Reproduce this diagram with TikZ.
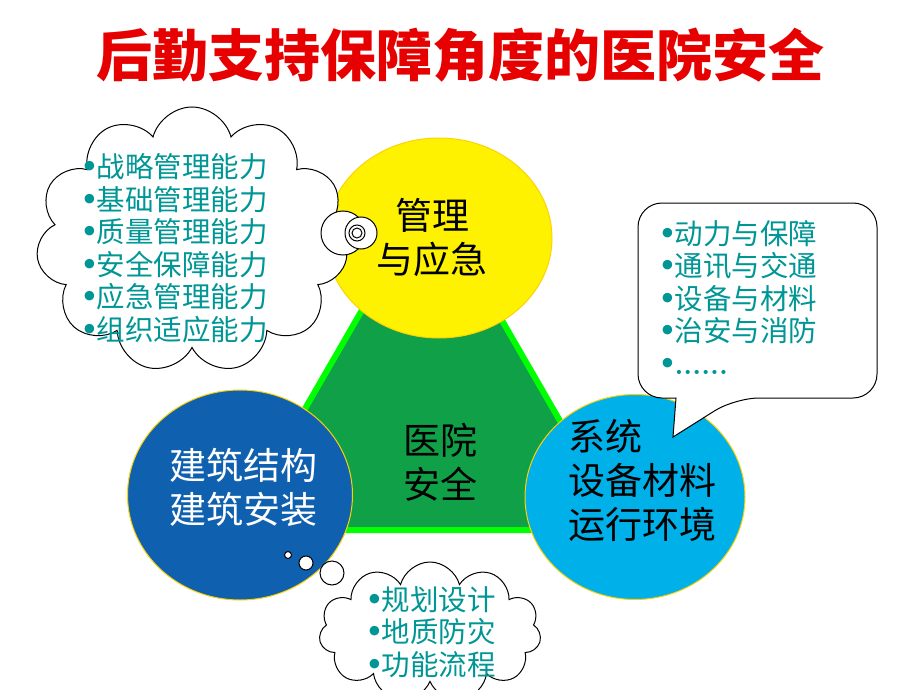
\documentclass[tikz,border=0pt]{standalone}
\usepackage{fontspec}
\newfontfamily\cjk{Noto Sans CJK SC}
\usetikzlibrary{shapes.geometric,shapes.symbols}
\definecolor{titlered}{RGB}{230,0,0}
\definecolor{tealtext}{RGB}{0,150,150}
\definecolor{trigreen}{RGB}{16,160,72}
\definecolor{edgegreen}{RGB}{0,255,0}
\definecolor{deepblue}{RGB}{16,96,176}
\definecolor{skyblue}{RGB}{0,176,232}
\newcommand{\bul}{\makebox[16pt][l]{\hspace*{-6pt}\rmfamily\scalebox{1.5}{\textbullet}}}

\begin{document}
\begin{tikzpicture}[x=1pt,y=-1pt,
    disc/.style={ellipse,draw=yellow!70!orange,line width=1pt},
    bigtext/.style={font=\cjk\fontsize{37}{44}\selectfont,align=center},
    listtext/.style={font=\cjk\fontsize{28.5}{32.5}\selectfont,align=left,text=tealtext,anchor=west},
    puff/.style={cloud,draw,fill=white,line width=1pt,cloud puffs=11,cloud ignores aspect},
    bubble/.style={circle,draw,fill=white,line width=1pt,inner sep=0pt}]
  \useasboundingbox (0,0) rectangle (920,690);
  \fill[white] (0,0) rectangle (920,690);

  % title
  \node[font=\cjk\bfseries\fontsize{56}{60}\selectfont,text=titlered] (title) at (460,55) {后勤支持保障角度的医院安全};

  % triangle
  \coordinate (apex) at (429,194);
  \coordinate (lb) at (235,530);
  \coordinate (rb) at (623,530);
  \filldraw[fill=trigreen,draw=edgegreen,line width=6,line join=round] (apex) -- (lb) -- (rb) -- cycle;

  % the three parts
  \node[disc,fill=yellow,minimum width=226,minimum height=200] (mgmt) at (439,238) {};
  \node[disc,fill=deepblue,minimum width=225,minimum height=210] (build) at (240,495) {};
  \node[disc,fill=skyblue,minimum width=220,minimum height=205] (sys) at (635,497) {};

  % left cloud
  \node[puff,minimum width=312,minimum height=266] (mcloud) at (192,240) {};
  \node[bubble,minimum size=44] (m1) at (343,233) {};
  \node[bubble,minimum size=32] (m2) at (361,233) {};
  \node[bubble,minimum size=16] (m3) at (357,233) {};
  \node[bubble,minimum size=10] (m4) at (357,233) {};

  % right callout
  \draw[fill=white,line width=1pt] (676,398) [rounded corners=24] -- (638,398) -- (638,203)
    -- (877,203) -- (877,398) -- (735,398) [sharp corners] -- (673,437) -- cycle;

  % bottom cloud
  \node[puff,minimum width=222,minimum height=140] (bcloud) at (430,632) {};
  \node[bubble,minimum size=7] (b1) at (288,555) {};
  \node[bubble,minimum size=14] (b2) at (306,563) {};
  \node[bubble,minimum size=24] (b3) at (332,573) {};

  % texts
  \node[bigtext] (mgmttxt) at (432,237) {管理\\与应急};
  \node[bigtext,text=white] (buildtxt) at (243,487) {建筑结构\\建筑安装};
  \node[bigtext,align=left] (systxt) at (642,480) {系统\\设备材料\\运行环境};
  \node[bigtext] (safetxt) at (440,462) {医院\\安全};

  \node[listtext] (mlist) at (77,248) {\bul{}战略管理能力\\\bul{}基础管理能力\\\bul{}质量管理能力\\\bul{}安全保障能力\\\bul{}应急管理能力\\\bul{}组织适应能力};
  \node[listtext] (slist) at (655,297) {\bul{}动力与保障\\\bul{}通讯与交通\\\bul{}设备与材料\\\bul{}治安与消防\\\bul{}{\rmfamily\bfseries......}};
  \node[listtext] (blist) at (362,632) {\bul{}规划设计\\\bul{}地质防灾\\\bul{}功能流程};
\end{tikzpicture}
\end{document}
